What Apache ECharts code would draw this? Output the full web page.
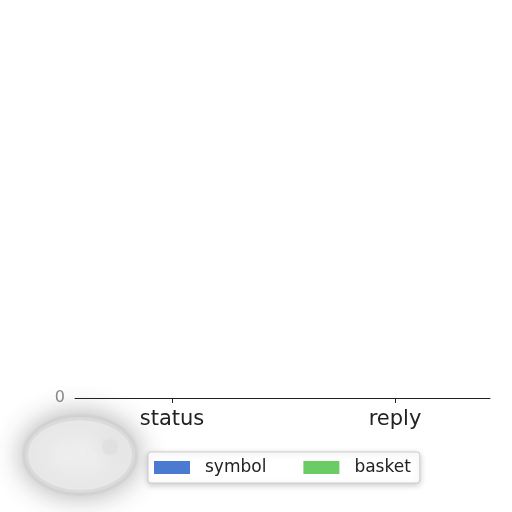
<!DOCTYPE html>
<html>
<head>
<meta charset="utf-8">
<script src="https://cdn.jsdelivr.net/npm/echarts@6/dist/echarts.min.js"></script>
<style>
html, body { margin: 0; padding: 0; background: #fff; }
#main { width: 512px; height: 512px; }
</style>
</head>
<body>
<div id="main"></div>
<script>
var categories = ['status', 'reply'];
var symbolValues = [0, 0];
var basketValues = [0, 0];
var seriesNames = ['symbol', 'basket'];
var colors = ['#4a7bd0', '#6acc65'];

var myChart = echarts.init(document.getElementById('main'));

// bars sit on the category index (0, 1) of a value x axis
function toPoints(values) {
    return values.map(function (v, i) { return [i, v]; });
}

var option = {
    backgroundColor: '#ffffff',
    animation: false,
    color: colors,
    graphic: [{
        type: 'ellipse',
        shape: { cx: 80, cy: 455, rx: 55, ry: 38 },
        style: {
            fill: '#eeeeee',
            stroke: 'rgba(205,205,205,0.5)',
            lineWidth: 6,
            shadowBlur: 28,
            shadowColor: 'rgba(160,160,160,0.9)'
        },
        z: -2
    }, {
        type: 'circle',
        shape: { cx: 110, cy: 447, r: 8 },
        style: {
            fill: 'rgba(220,220,220,0.5)',
            shadowBlur: 16,
            shadowColor: 'rgba(205,205,205,0.8)'
        },
        z: -1
    }],
    grid: {
        left: 75,
        right: 22,
        top: 40,
        bottom: 114
    },
    legend: {
        data: seriesNames,
        top: 452,
        left: 148,
        itemWidth: 36,
        itemHeight: 13,
        itemGap: 37,
        padding: [7, 9, 7, 6],
        borderColor: '#cccccc',
        borderWidth: 1,
        borderRadius: 3,
        backgroundColor: '#ffffff',
        shadowBlur: 6,
        shadowColor: 'rgba(0,0,0,0.2)',
        shadowOffsetY: 2,
        icon: 'rect',
        textStyle: {
            fontFamily: 'DejaVu Sans',
            fontSize: 17,
            color: '#222',
            padding: [0, 0, 0, 10]
        }
    },
    xAxis: {
        type: 'value',
        min: -0.435,
        max: 1.426,
        splitLine: { show: false },
        axisLine: { show: true, lineStyle: { color: '#222', width: 1 } },
        axisTick: { show: true, customValues: [0, 1], length: 5, lineStyle: { color: '#222' } },
        axisLabel: {
            customValues: [0, 1],
            fontFamily: 'DejaVu Sans',
            fontSize: 21,
            color: '#222',
            margin: 11,
            formatter: function (v) { return categories[Math.round(v)]; }
        }
    },
    yAxis: {
        type: 'value',
        min: 0,
        max: 1,
        interval: 1,
        axisLine: { show: false },
        axisTick: { show: false },
        splitLine: { show: false },
        axisLabel: {
            fontFamily: 'DejaVu Sans',
            fontSize: 16,
            color: '#888',
            margin: 10,
            formatter: function (v) { return v === 0 ? '0' : ''; }
        }
    },
    series: [{
        name: seriesNames[0],
        type: 'bar',
        barWidth: 40,
        data: toPoints(symbolValues)
    }, {
        name: seriesNames[1],
        type: 'bar',
        barWidth: 40,
        data: toPoints(basketValues)
    }]
};
myChart.setOption(option);
</script>
</body>
</html>
